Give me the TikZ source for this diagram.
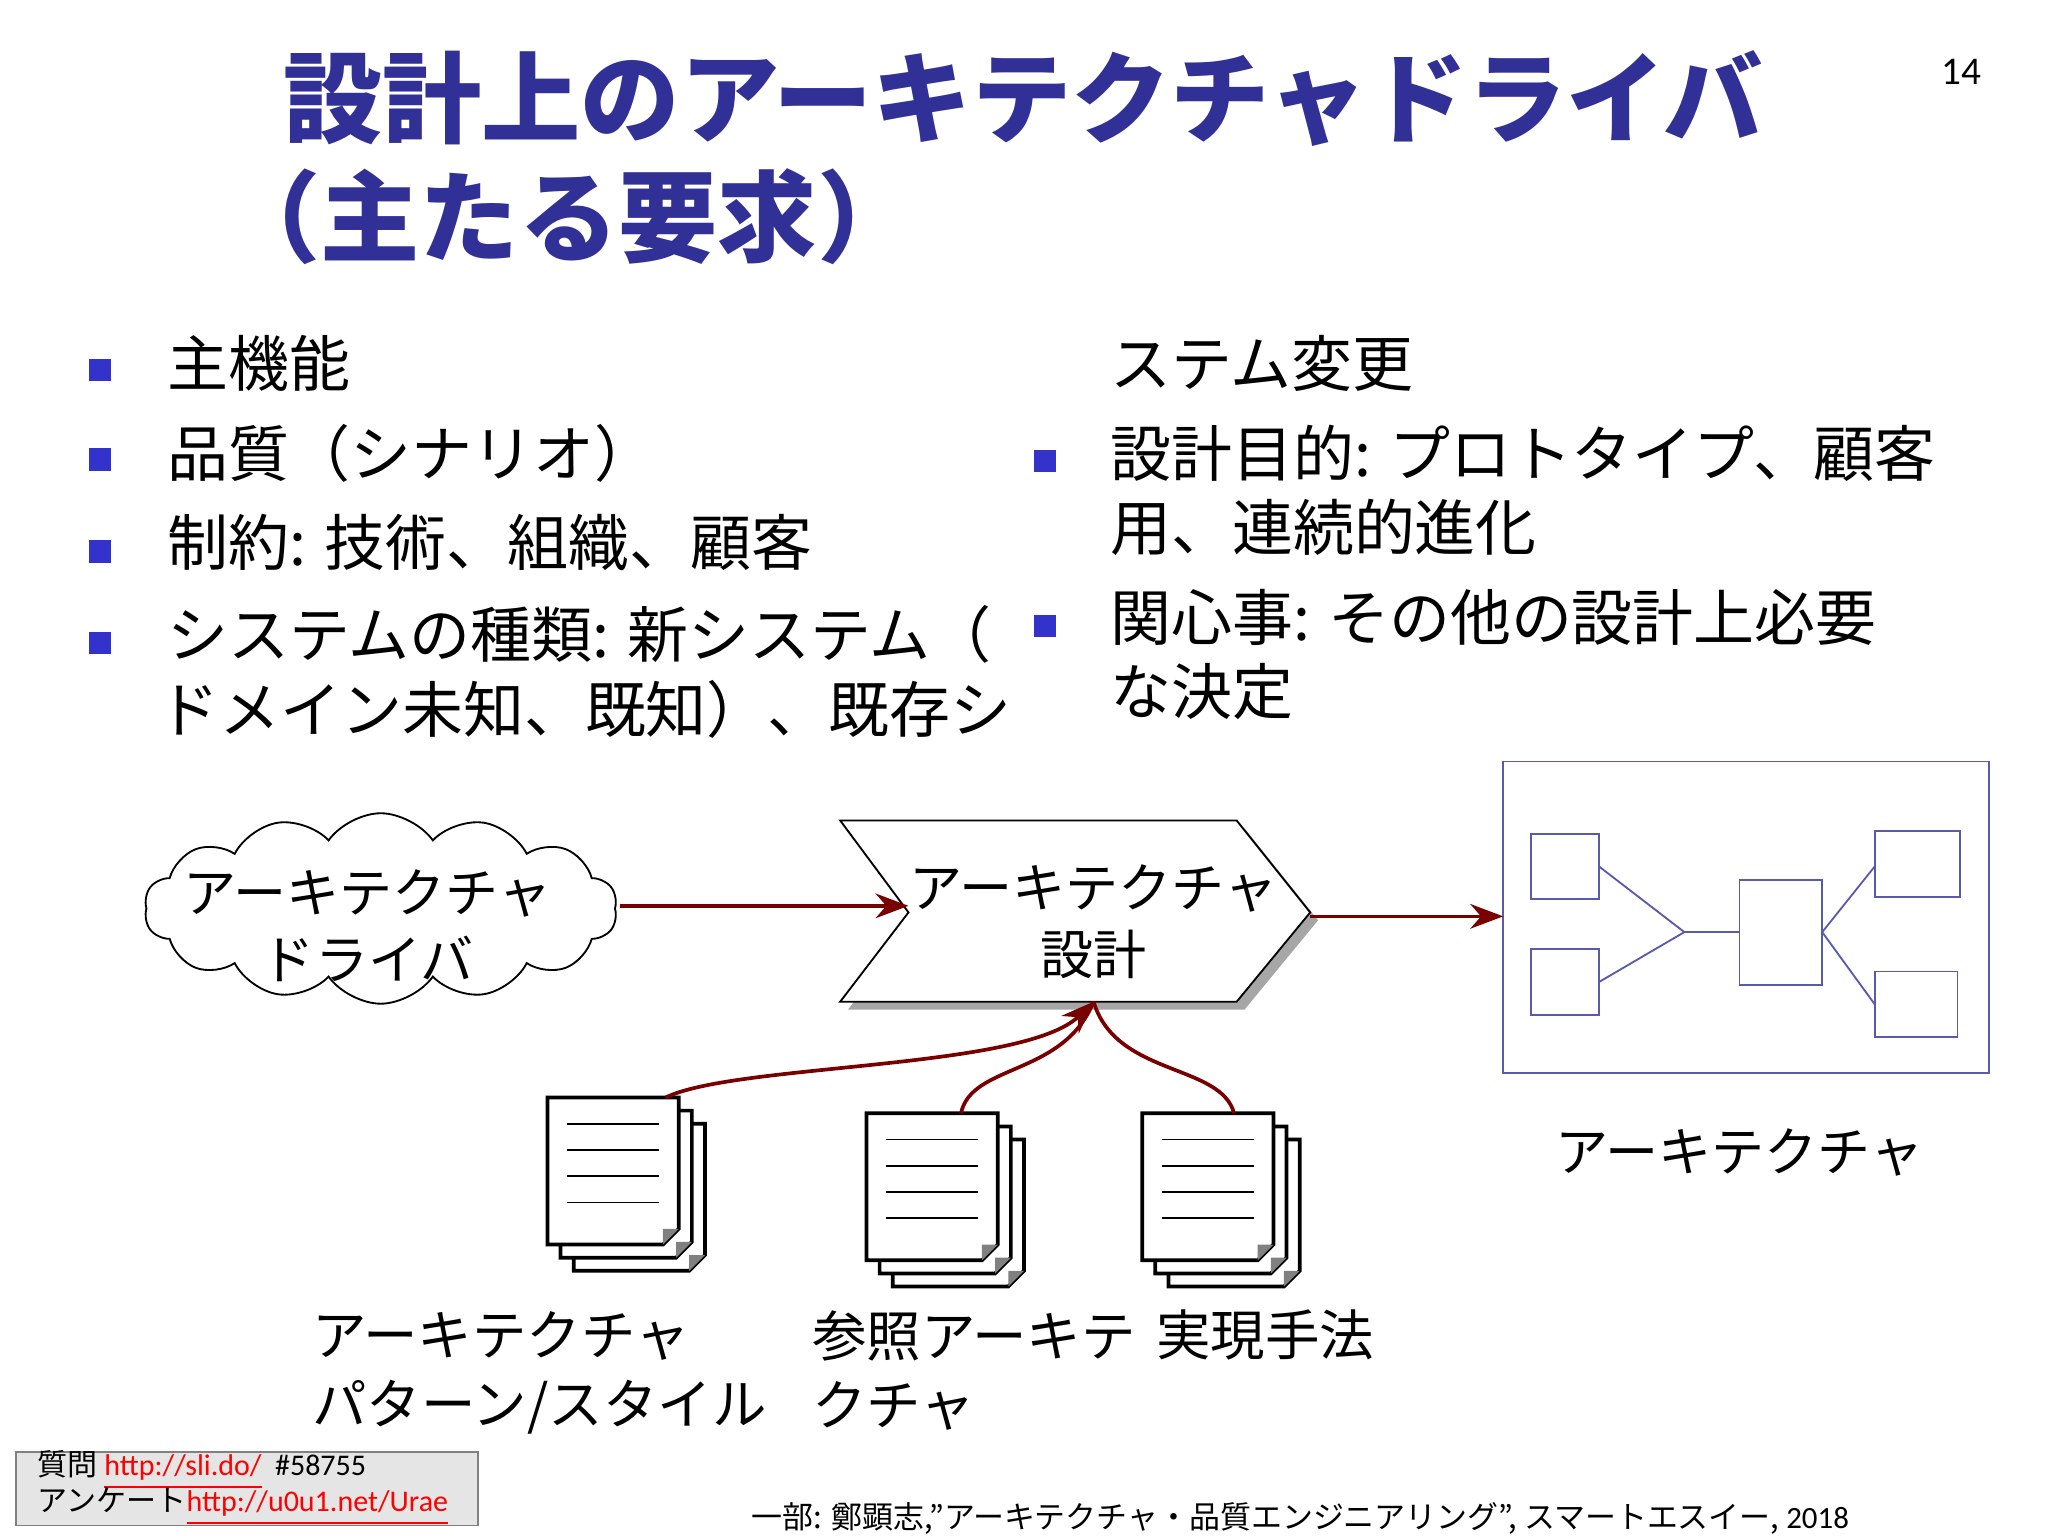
\documentclass[tikz,border=0pt]{standalone}
\usepackage{fontspec}
\setmainfont{Noto Sans CJK JP}
\newfontfamily\latinf{Carlito}
\usetikzlibrary{shapes.symbols,arrows.meta}
\definecolor{ttl}{RGB}{48,48,150}
\definecolor{bul}{RGB}{51,51,204}
\definecolor{arr}{RGB}{120,0,0}
\definecolor{abox}{RGB}{90,90,170}
\tikzset{
 body/.style={anchor=west,inner sep=0pt,font=\fontsize{13.2}{16}\selectfont},
 lab/.style={inner sep=0pt,font=\fontsize{11.5}{14.5}\selectfont,align=center},
 bsq/.style={fill=bul,minimum size=0.17cm,inner sep=0pt},
 conn/.style={draw=arr,thick,-{Stealth[length=2.5mm]}},
 sbox/.style={draw=abox,thin},
}
\newcommand{\docstack}[3]{%
 \foreach \d in {20,10,0}{
  \draw[fill=white,thick] ({#1+\d},{#2+\d}) -- ({#1+100+\d},{#2+\d}) -- ({#1+100+\d},{#2+100+\d}) -- ({#1+88+\d},{#2+112+\d}) -- ({#1+\d},{#2+112+\d}) -- cycle;
  \fill[gray] ({#1+100+\d},{#2+100+\d}) -- ({#1+88+\d},{#2+112+\d}) -- ({#1+88+\d},{#2+100+\d}) -- cycle;
 }
 \foreach \k in {0,1,2,3}{\draw ({#1+15},{#2+20+\k*20}) -- ({#1+85},{#2+20+\k*20});}
 \coordinate (#3) at ({#1+70},#2);
}
\begin{document}
\begin{tikzpicture}[x=0.01cm,y=-0.01cm]
\useasboundingbox (0,0) rectangle (1560,1170);
% title
\node[anchor=west,inner sep=0pt,text=ttl,font=\fontsize{21.5}{26}\bfseries\selectfont] (t1) at (215,75) {設計上のアーキテクチャドライバ};
\node[anchor=west,inner sep=0pt,text=ttl,font=\fontsize{21.5}{26}\bfseries\selectfont] (t2) at (168,165) {（主たる要求）};
\node[anchor=east,inner sep=0pt,font=\latinf\fontsize{8.5}{10}\selectfont] (pg) at (1510,55) {14};
% left bullets
\foreach \y/\n in {282/a,350/b,420/c,490/d}{\node[bsq] (s\n) at (76,\y) {};}
\node[body] (l1) at (127,277) {主機能};
\node[body] (l2) at (127,345) {品質（シナリオ）};
\node[body] (l3) at (127,413) {制約: 技術、組織、顧客};
\node[body] (l4) at (127,483) {システムの種類: 新システム（};
\node[body] (l5) at (120,540) {ドメイン未知、既知）、既存シ};
% right
\node[bsq] (se) at (796,351) {};
\node[bsq] (sf) at (796,477) {};
\node[body] (r1) at (845,277) {ステム変更};
\node[body] (r2) at (845,345) {設計目的: プロトタイプ、顧客};
\node[body] (r3) at (845,402) {用、連続的進化};
\node[body] (r4) at (845,470) {関心事: その他の設計上必要};
\node[body] (r5) at (845,527) {な決定};
% cloud
\node[cloud,draw,cloud puffs=14,cloud puff arc=110,aspect=2.4,minimum width=3.6cm,minimum height=1.45cm,inner sep=0pt] (cl) at (290,692) {};
\node[lab,align=center] (clt) at (280,705) {アーキテクチャ\\ドライバ};
% chevron
\fill[gray!70] (646,631) -- (948,631) -- (1004,701) -- (948,769) -- (646,769) -- (698,701) -- cycle;
\draw[fill=white] (640,625) -- (942,625) -- (998,695) -- (942,763) -- (640,763) -- (692,695) -- cycle;
\coordinate (chl) at (692,690);
\coordinate (chr) at (998,698);
\coordinate (chb) at (833,763);
\node[lab] (cht) at (833,702) {アーキテクチャ\\設計};
\coordinate (clr) at (472,690);
\draw[conn] (clr) -- (chl);
% architecture box
\draw[sbox] (1145,580) rectangle (1515,817);
\coordinate (abl) at (1145,698);
\draw[conn] (chr) -- (abl);
\draw[sbox] (1166,635) rectangle (1218,685);
\draw[sbox] (1166,723) rectangle (1218,773);
\draw[sbox] (1325,670) rectangle (1388,750);
\draw[sbox] (1428,633) rectangle (1493,683);
\draw[sbox] (1428,740) rectangle (1491,790);
\draw[sbox] (1218,660) -- (1283,710) -- (1218,748);
\draw[sbox] (1283,710) -- (1325,710);
\draw[sbox] (1428,660) -- (1388,710) -- (1428,765);
\node[lab] (at) at (1325,878) {アーキテクチャ};
% documents
\docstack{417}{836}{d1}
\docstack{660}{848}{d2}
\docstack{870}{848}{d3}
\draw[conn] (507,836) .. controls (560,810) and (780,815) .. (chb);
\draw[draw=arr,thick] (732,848) .. controls (740,810) and (810,820) .. (chb);
\draw[draw=arr,thick] (940,848) .. controls (930,810) and (850,820) .. (chb);
% labels
\node[body,align=left,font=\fontsize{11.8}{15}\selectfont] (p1) at (237,1046) {アーキテクチャ\\パターン/スタイル};
\node[body,align=left,font=\fontsize{11.8}{15}\selectfont] (p2) at (618,1044) {参照アーキテ\\クチャ};
\node[body,font=\fontsize{11.8}{15}\selectfont] (p3) at (880,1017) {実現手法};
% bottom box
\draw[fill=gray!20,draw=gray] (12,1106) rectangle (364,1162);
\node[anchor=west,inner sep=0pt,font=\fontsize{6.5}{8}\selectfont] (q1) at (28,1120) {質問 {\color{red}\underline{\latinf http://sli.do/}} {\latinf\ \#58755}};
\node[anchor=west,inner sep=0pt,font=\fontsize{6.5}{8}\selectfont] (q2) at (28,1148) {アンケート{\color{red}\underline{\latinf http://u0u1.net/Urae}}};
\node[anchor=west,inner sep=0pt,font=\fontsize{6.7}{8}\selectfont] (ft) at (572,1157) {一部: 鄭顕志,”アーキテクチャ・品質エンジニアリング”, スマートエスイー, {\latinf 2018}};
\end{tikzpicture}
\end{document}
